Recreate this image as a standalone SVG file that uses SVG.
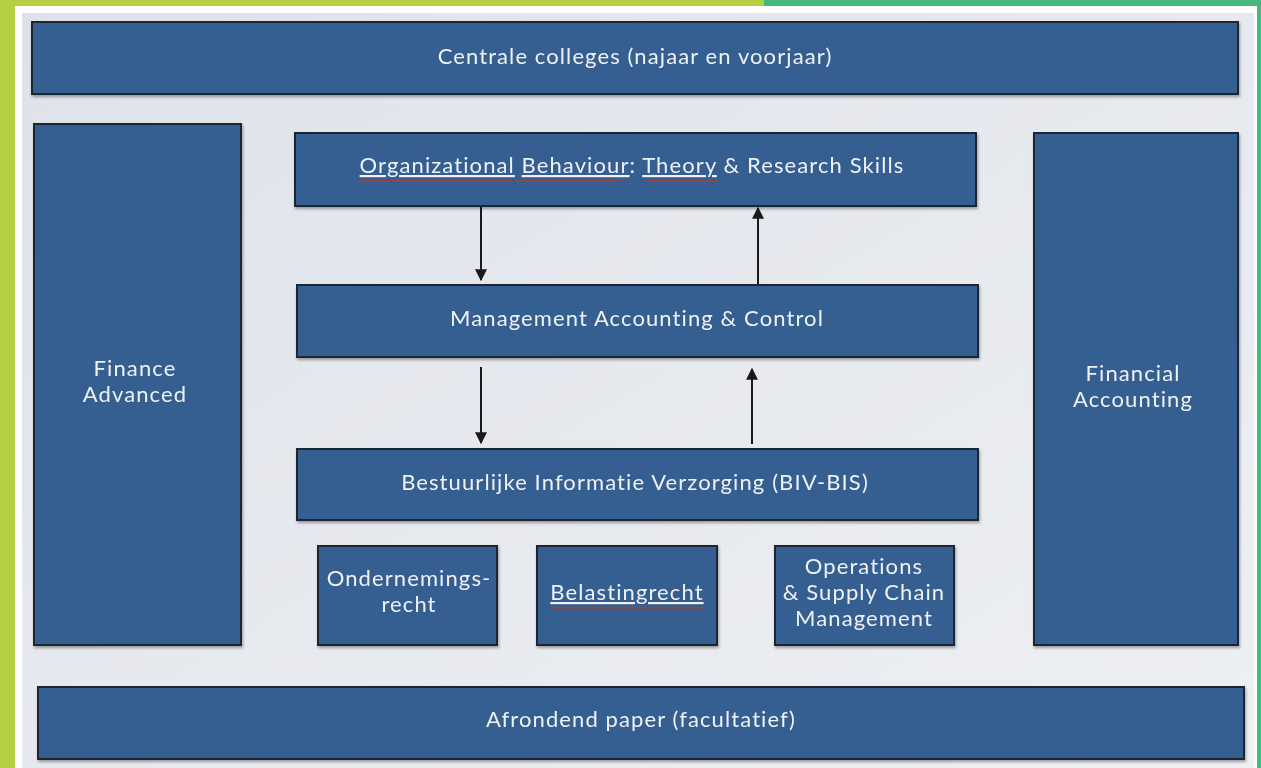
<svg xmlns="http://www.w3.org/2000/svg" width="1261" height="768" viewBox="0 0 1261 768">
<defs>
<style>
.box{fill:#355f90;stroke:#1c2533;stroke-width:2}
.t{font-family:Lato,"Liberation Sans",sans-serif;font-size:22px;letter-spacing:1.1px;font-variant-ligatures:none;fill:#eef1f6;text-anchor:middle}
.u{text-decoration:underline}
.arr{stroke:#1a1a1a;stroke-width:2;fill:none;marker-end:url(#ah)}
.sq{stroke:#c0392b;stroke-width:1.2;fill:none}
</style>
<marker id="ah" viewBox="0 0 10 10" refX="9" refY="5" markerWidth="6" markerHeight="6" orient="auto">
<path d="M0,0 L10,5 L0,10 z" fill="#1a1a1a"/>
</marker>
<linearGradient id="bg" x1="0" y1="0" x2="1" y2="1">
<stop offset="0" stop-color="#dfe2ea"/>
<stop offset="1" stop-color="#eef0f3"/>
</linearGradient>
<filter id="sh" x="-5%" y="-5%" width="110%" height="115%">
<feDropShadow dx="1" dy="2" stdDeviation="1.5" flood-color="#000" flood-opacity="0.35"/>
</filter>
</defs>
<rect x="0" y="0" width="1261" height="768" fill="#ffffff"/>
<rect x="22" y="13" width="1232" height="755" fill="url(#bg)"/>
<rect x="0" y="0" width="15" height="768" fill="#b5d043"/>
<rect x="0" y="0" width="764" height="6" fill="#b5d043"/>
<rect x="764" y="0" width="497" height="6" fill="#45b97c"/>
<rect x="1257" y="0" width="4" height="768" fill="#45b97c"/>

<g id="connectors">
<line class="arr" x1="481" y1="206" x2="481" y2="280"/>
<line class="arr" x1="758" y1="284" x2="758" y2="208"/>
<line class="arr" x1="481" y1="367" x2="481" y2="443"/>
<line class="arr" x1="752" y1="444" x2="752" y2="369"/>
</g>

<g id="centrale" filter="url(#sh)">
<rect class="box" x="32" y="22" width="1206" height="72"/>
<text class="t" x="635" y="64">Centrale colleges (najaar en voorjaar)</text>
</g>
<g id="finance" filter="url(#sh)">
<rect class="box" x="34" y="124" width="207" height="521"/>
<text class="t" x="135" y="376">Finance</text>
<text class="t" x="135" y="402">Advanced</text>
</g>
<g id="financial" filter="url(#sh)">
<rect class="box" x="1034" y="133" width="204" height="512"/>
<text class="t" x="1133" y="381">Financial</text>
<text class="t" x="1133" y="407">Accounting</text>
</g>
<g id="ob" filter="url(#sh)">
<rect class="box" x="295" y="133" width="681" height="73"/>
<text class="t" x="632" y="173"><tspan class="u">Organizational</tspan> <tspan class="u">Behaviour</tspan>: <tspan class="u">Theory</tspan> &amp; Research Skills</text>
<path class="sq" d="M359,180 l4,1.5 l4,-1.5 l4,1.5 l4,-1.5 l4,1.5 l4,-1.5 l4,1.5 l4,-1.5 l4,1.5 l4,-1.5 l4,1.5 l4,-1.5 l4,1.5 l4,-1.5 l4,1.5 l4,-1.5 l4,1.5 l4,-1.5 l4,1.5 l4,-1.5 l4,1.5 l4,-1.5 l4,1.5 l4,-1.5 l4,1.5 l4,-1.5 l4,1.5 l4,-1.5 l4,1.5 l4,-1.5 l4,1.5 l4,-1.5 l4,1.5 l4,-1.5 l4,1.5 l4,-1.5 l4,1.5 l4,-1.5"/>
<path class="sq" d="M515,180 l4,1.5 l4,-1.5 l4,1.5 l4,-1.5 l4,1.5 l4,-1.5 l4,1.5 l4,-1.5 l4,1.5 l4,-1.5 l4,1.5 l4,-1.5 l4,1.5 l4,-1.5 l4,1.5 l4,-1.5 l4,1.5 l4,-1.5 l4,1.5 l4,-1.5 l4,1.5 l4,-1.5 l4,1.5 l4,-1.5 l4,1.5 l4,-1.5"/>
<path class="sq" d="M645,180 l4,1.5 l4,-1.5 l4,1.5 l4,-1.5 l4,1.5 l4,-1.5 l4,1.5 l4,-1.5 l4,1.5 l4,-1.5 l4,1.5 l4,-1.5 l4,1.5 l4,-1.5 l4,1.5 l4,-1.5 l4,1.5 l4,-1.5"/>
</g>
<g id="mac" filter="url(#sh)">
<rect class="box" x="297" y="285" width="681" height="72"/>
<text class="t" x="637" y="326">Management Accounting &amp; Control</text>
</g>
<g id="biv" filter="url(#sh)">
<rect class="box" x="297" y="449" width="681" height="71"/>
<text class="t" x="635" y="490">Bestuurlijke Informatie Verzorging (BIV-BIS)</text>
</g>
<g id="ondernemings" filter="url(#sh)">
<rect class="box" x="318" y="546" width="179" height="99"/>
<text class="t" x="409" y="586">Ondernemings-</text>
<text class="t" x="409" y="612">recht</text>
</g>
<g id="belasting" filter="url(#sh)">
<rect class="box" x="537" y="546" width="180" height="99"/>
<text class="t" x="627" y="600"><tspan class="u">Belastingrecht</tspan></text>
<path class="sq" d="M552,607 l4,1.5 l4,-1.5 l4,1.5 l4,-1.5 l4,1.5 l4,-1.5 l4,1.5 l4,-1.5 l4,1.5 l4,-1.5 l4,1.5 l4,-1.5 l4,1.5 l4,-1.5 l4,1.5 l4,-1.5 l4,1.5 l4,-1.5 l4,1.5 l4,-1.5 l4,1.5 l4,-1.5 l4,1.5 l4,-1.5 l4,1.5 l4,-1.5 l4,1.5 l4,-1.5 l4,1.5 l4,-1.5 l4,1.5 l4,-1.5 l4,1.5 l4,-1.5 l4,1.5 l4,-1.5 l4,1.5 l4,-1.5"/>
</g>
<g id="operations" filter="url(#sh)">
<rect class="box" x="775" y="546" width="179" height="99"/>
<text class="t" x="864" y="574">Operations</text>
<text class="t" x="864" y="600">&amp; Supply Chain</text>
<text class="t" x="864" y="626">Management</text>
</g>
<g id="afrondend" filter="url(#sh)">
<rect class="box" x="38" y="687" width="1206" height="72"/>
<text class="t" x="641" y="727">Afrondend paper (facultatief)</text>
</g>
</svg>
